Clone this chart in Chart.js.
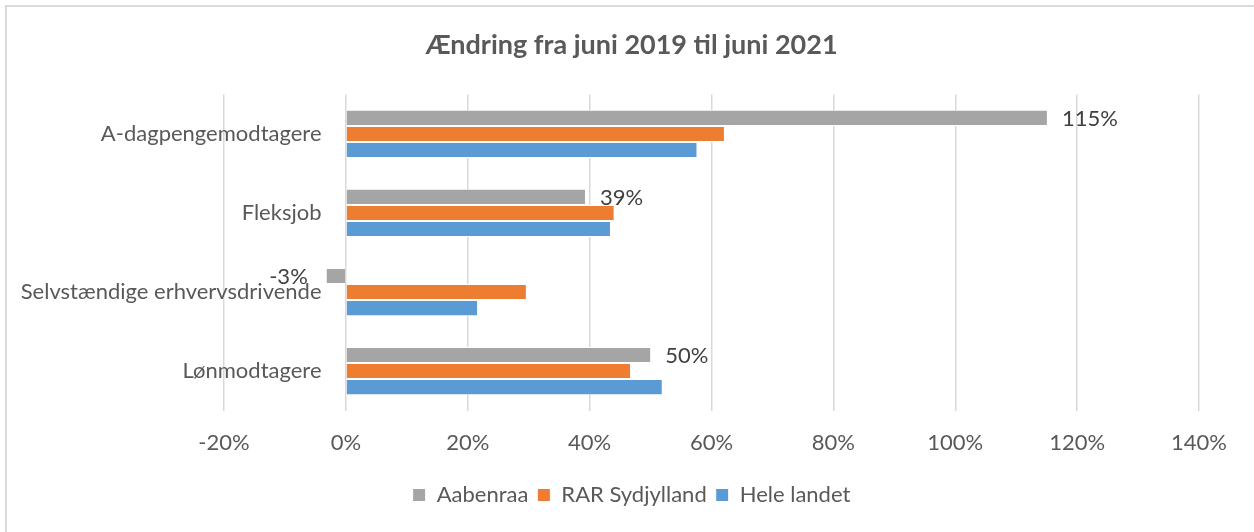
<!DOCTYPE html>
<html>
<head>
<meta charset="utf-8">
<script src="https://cdn.jsdelivr.net/npm/chart.js@4"></script>
<style>
  html, body { margin: 0; padding: 0; background: #fff; }
  #wrap { width: 1254px; height: 532px; position: relative; }
</style>
</head>
<body>
<div id="wrap"><canvas id="chart"></canvas></div>
<script>
// Kategorier og serier (ændring i procent)
const categories = ['A-dagpengemodtagere', 'Fleksjob', 'Selvstændige erhvervsdrivende', 'Lønmodtagere'];
const seriesNames = ['Aabenraa', 'RAR Sydjylland', 'Hele landet'];
const aabenraa = [115.2, 39.4, -3.3, 50.1];
const rarSydjylland = [62.2, 44.1, 29.7, 46.8];
const heleLandet = [57.7, 43.5, 21.7, 52.0];
const xTicks = [-20, 0, 20, 40, 60, 80, 100, 120, 140];
const colors = ['#A5A5A5', '#ED7D31', '#5B9BD5'];

const FONT = 'Lato, "Open Sans", sans-serif';
const TEXT = '#595959';

// Ramme om diagrammet (top og venstre)
const framePlugin = {
  id: 'frame',
  beforeDraw(chart) {
    const ctx = chart.ctx;
    ctx.save();
    ctx.fillStyle = '#fff';
    ctx.fillRect(0, 0, chart.width, chart.height);
    ctx.strokeStyle = '#d9d9d9';
    ctx.lineWidth = 2;
    ctx.beginPath();
    ctx.moveTo(6, chart.height);
    ctx.lineTo(6, 6);
    ctx.lineTo(chart.width, 6);
    ctx.stroke();
    ctx.restore();
  }
};

// Dataetiketter kun for Aabenraa, uden for bjælkens ende
const labelPlugin = {
  id: 'endLabels',
  afterDatasetsDraw(chart) {
    const ctx = chart.ctx;
    const meta = chart.getDatasetMeta(0);
    ctx.save();
    ctx.font = '22px ' + FONT;
    ctx.fillStyle = '#404040';
    ctx.textBaseline = 'middle';
    meta.data.forEach((bar, i) => {
      const v = aabenraa[i];
      const txt = Math.round(v) + '%';
      if (v >= 0) {
        ctx.textAlign = 'left';
        ctx.fillText(txt, bar.x + 14, bar.y + 1);
      } else {
        ctx.textAlign = 'right';
        ctx.fillText(txt, bar.x - 18, bar.y + 1);
      }
    });
    ctx.restore();
  }
};

const series = [aabenraa, rarSydjylland, heleLandet];

new Chart(document.getElementById('chart'), {
  type: 'bar',
  data: {
    labels: categories,
    datasets: series.map((d, i) => ({
      label: seriesNames[i],
      data: d,
      backgroundColor: colors[i],
      borderColor: '#ffffff',
      borderWidth: 1,
      categoryPercentage: 0.61,
      barPercentage: 1.0,
    })),
  },
  options: {
    indexAxis: 'y',
    responsive: true,
    maintainAspectRatio: false,
    animation: false,
    layout: { padding: { left: 9, right: 0, top: 0, bottom: 16 } },
    scales: {
      x: {
        min: -20,
        max: 140,
        afterBuildTicks: (s) => { s.ticks = xTicks.map(v => ({ value: v })); },
        grid: { color: '#d9d9d9', lineWidth: 1.5, drawTicks: false },
        border: { display: false },
        ticks: {
          color: TEXT,
          font: { family: FONT, size: 22 },
          padding: 19,
          callback: (v) => v + '%',
        },
      },
      // kategoriteksterne står ved 0-aksen som i Excel
      y: {
        position: { x: -4 },
        afterFit: (s) => { s.width = 0; },
        grid: { display: false },
        border: { display: false },
        ticks: { color: TEXT, font: { family: FONT, size: 22 } },
      },
      // tomme akser der kun giver plads til venstre og højre
      yl: {
        type: 'linear',
        position: 'left',
        afterFit: (s) => { s.width = 215; },
        grid: { display: false },
        border: { display: false },
        ticks: { display: false },
      },
      yr: {
        type: 'linear',
        position: 'right',
        afterFit: (s) => { s.width = 55; },
        grid: { display: false },
        border: { display: false },
        ticks: { display: false },
      },
    },
    plugins: {
      title: {
        display: true,
        text: 'Ændring fra juni 2019 til juni 2021',
        color: TEXT,
        font: { family: FONT, size: 27, weight: 'bold' },
        padding: { top: 29, bottom: 33 },
      },
      legend: {
        position: 'bottom',
        labels: {
          color: TEXT,
          font: { family: FONT, size: 22 },
          boxWidth: 13,
          boxHeight: 13,
          padding: 9,
        },
      },
      tooltip: { enabled: false },
    },
  },
  plugins: [framePlugin, labelPlugin],
});
</script>
</body>
</html>
